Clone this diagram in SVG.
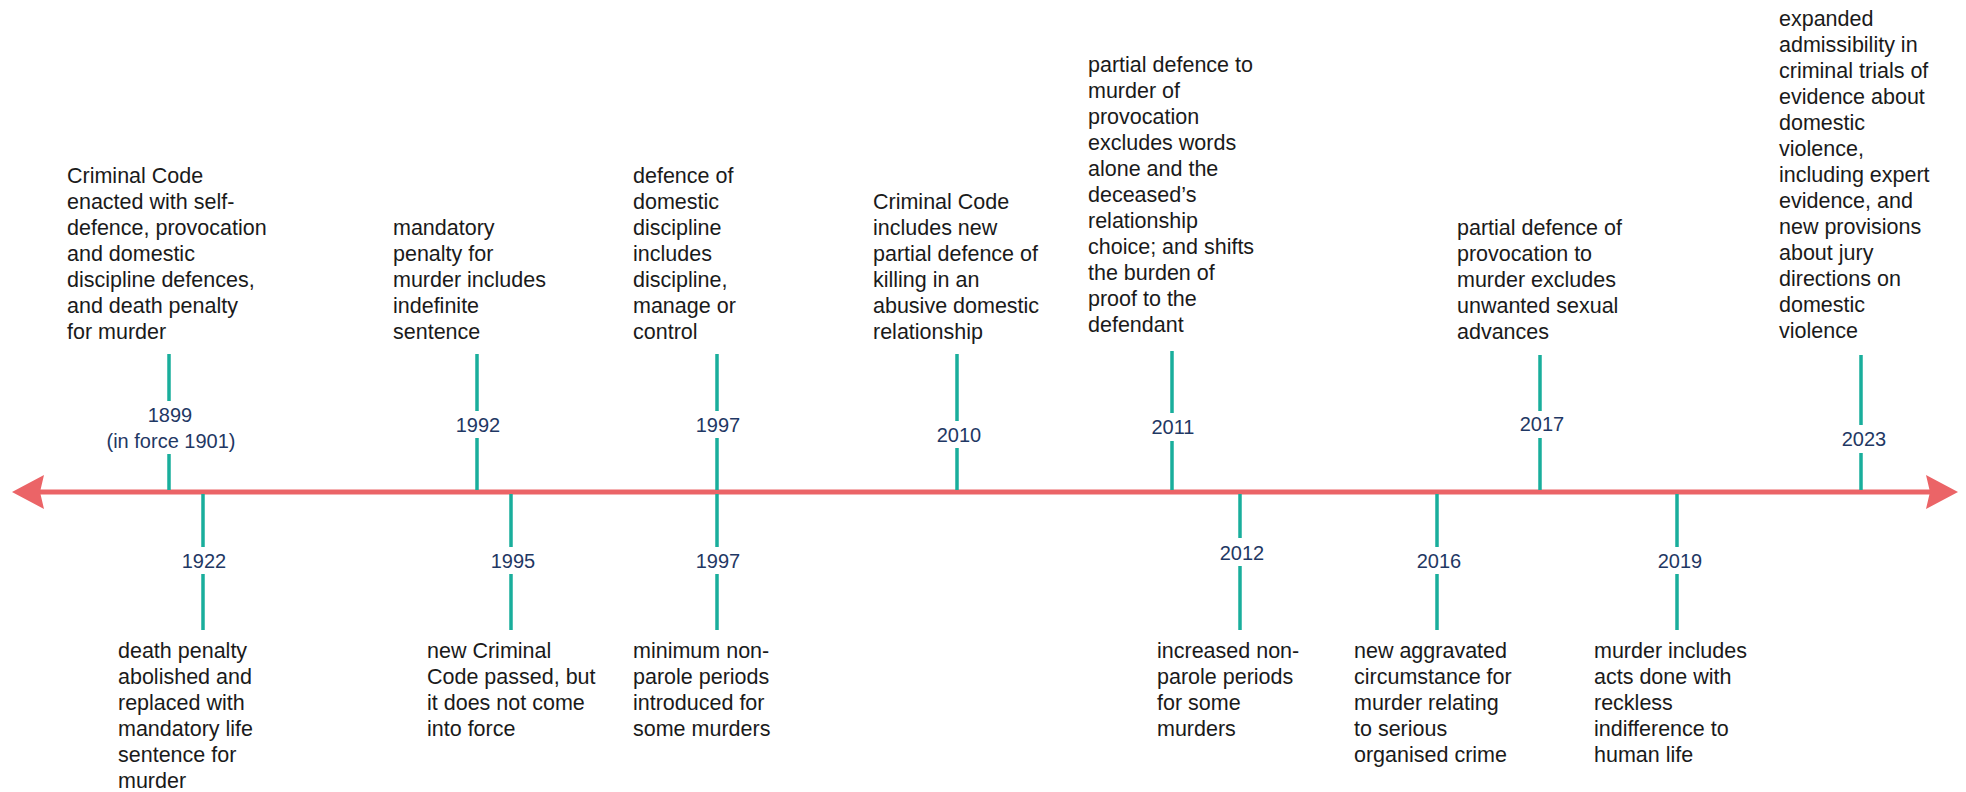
<svg xmlns="http://www.w3.org/2000/svg" width="1966" height="792" viewBox="0 0 1966 792">
<style>
.desc{font-family:"Liberation Sans",Arial,sans-serif;font-size:21.5px;fill:#1a1a1a}
.year{font-family:"Liberation Sans",Arial,sans-serif;font-size:20px;fill:#1F3864;text-anchor:middle}
.tick{stroke:#19AE9C;stroke-width:3.5;fill:none}
.axis{stroke:#EB6467;stroke-width:5;fill:none}
</style>
<defs>
<marker id="arrow" viewBox="0 0 32 34" refX="4" refY="17" markerWidth="32" markerHeight="34" markerUnits="userSpaceOnUse" orient="auto-start-reverse">
<path d="M0,0 L32,17 L0,34 L4,17 Z" fill="#EB6467"/>
</marker>
</defs>
<rect width="1966" height="792" fill="#ffffff"/>
<g id="connectors">
<line class="axis" x1="40" y1="492" x2="1930" y2="492" marker-start="url(#arrow)" marker-end="url(#arrow)"/>
<path class="tick" d="M169,354V401M169,454V490"/>
<path class="tick" d="M477,354V411M477,438V490"/>
<path class="tick" d="M717,354V411M717,438V490"/>
<path class="tick" d="M957,354V421M957,448V490"/>
<path class="tick" d="M1172,351V413M1172,441V490"/>
<path class="tick" d="M1540,355V411M1540,438V490"/>
<path class="tick" d="M1861,355V425M1861,453V490"/>
<path class="tick" d="M203,494V547M203,574V630"/>
<path class="tick" d="M511,494V547M511,574V630"/>
<path class="tick" d="M717,494V547M717,574V630"/>
<path class="tick" d="M1240,494V538M1240,566V630"/>
<path class="tick" d="M1437,494V547M1437,574V630"/>
<path class="tick" d="M1677,494V547M1677,574V630"/>
</g>
<g id="n1899">
<text class="desc" x="67"><tspan x="67" y="183">Criminal Code</tspan><tspan x="67" y="209">enacted with self-</tspan><tspan x="67" y="235">defence, provocation</tspan><tspan x="67" y="261">and domestic</tspan><tspan x="67" y="287">discipline defences,</tspan><tspan x="67" y="313">and death penalty</tspan><tspan x="67" y="339">for murder</tspan></text>
<text class="year" x="170" y="422">1899</text>
<text class="year" x="171" y="448">(in force 1901)</text>
</g>
<g id="n1922">
<text class="desc"><tspan x="118" y="658">death penalty</tspan><tspan x="118" y="684">abolished and</tspan><tspan x="118" y="710">replaced with</tspan><tspan x="118" y="736">mandatory life</tspan><tspan x="118" y="762">sentence for</tspan><tspan x="118" y="788">murder</tspan></text>
<text class="year" x="204" y="568">1922</text>
</g>
<g id="n1992">
<text class="desc"><tspan x="393" y="235">mandatory</tspan><tspan x="393" y="261">penalty for</tspan><tspan x="393" y="287">murder includes</tspan><tspan x="393" y="313">indefinite</tspan><tspan x="393" y="339">sentence</tspan></text>
<text class="year" x="478" y="432">1992</text>
</g>
<g id="n1995">
<text class="desc"><tspan x="427" y="658">new Criminal</tspan><tspan x="427" y="684">Code passed, but</tspan><tspan x="427" y="710">it does not come</tspan><tspan x="427" y="736">into force</tspan></text>
<text class="year" x="513" y="568">1995</text>
</g>
<g id="n1997a">
<text class="desc"><tspan x="633" y="183">defence of</tspan><tspan x="633" y="209">domestic</tspan><tspan x="633" y="235">discipline</tspan><tspan x="633" y="261">includes</tspan><tspan x="633" y="287">discipline,</tspan><tspan x="633" y="313">manage or</tspan><tspan x="633" y="339">control</tspan></text>
<text class="year" x="718" y="432">1997</text>
</g>
<g id="n1997b">
<text class="desc"><tspan x="633" y="658">minimum non-</tspan><tspan x="633" y="684">parole periods</tspan><tspan x="633" y="710">introduced for</tspan><tspan x="633" y="736">some murders</tspan></text>
<text class="year" x="718" y="568">1997</text>
</g>
<g id="n2010">
<text class="desc"><tspan x="873" y="209">Criminal Code</tspan><tspan x="873" y="235">includes new</tspan><tspan x="873" y="261">partial defence of</tspan><tspan x="873" y="287">killing in an</tspan><tspan x="873" y="313">abusive domestic</tspan><tspan x="873" y="339">relationship</tspan></text>
<text class="year" x="959" y="442">2010</text>
</g>
<g id="n2011">
<text class="desc"><tspan x="1088" y="72">partial defence to</tspan><tspan x="1088" y="98">murder of</tspan><tspan x="1088" y="124">provocation</tspan><tspan x="1088" y="150">excludes words</tspan><tspan x="1088" y="176">alone and the</tspan><tspan x="1088" y="202">deceased’s</tspan><tspan x="1088" y="228">relationship</tspan><tspan x="1088" y="254">choice; and shifts</tspan><tspan x="1088" y="280">the burden of</tspan><tspan x="1088" y="306">proof to the</tspan><tspan x="1088" y="332">defendant</tspan></text>
<text class="year" x="1173" y="434">2011</text>
</g>
<g id="n2012">
<text class="desc"><tspan x="1157" y="658">increased non-</tspan><tspan x="1157" y="684">parole periods</tspan><tspan x="1157" y="710">for some</tspan><tspan x="1157" y="736">murders</tspan></text>
<text class="year" x="1242" y="560">2012</text>
</g>
<g id="n2016">
<text class="desc"><tspan x="1354" y="658">new aggravated</tspan><tspan x="1354" y="684">circumstance for</tspan><tspan x="1354" y="710">murder relating</tspan><tspan x="1354" y="736">to serious</tspan><tspan x="1354" y="762">organised crime</tspan></text>
<text class="year" x="1439" y="568">2016</text>
</g>
<g id="n2017">
<text class="desc"><tspan x="1457" y="235">partial defence of</tspan><tspan x="1457" y="261">provocation to</tspan><tspan x="1457" y="287">murder excludes</tspan><tspan x="1457" y="313">unwanted sexual</tspan><tspan x="1457" y="339">advances</tspan></text>
<text class="year" x="1542" y="431">2017</text>
</g>
<g id="n2019">
<text class="desc"><tspan x="1594" y="658">murder includes</tspan><tspan x="1594" y="684">acts done with</tspan><tspan x="1594" y="710">reckless</tspan><tspan x="1594" y="736">indifference to</tspan><tspan x="1594" y="762">human life</tspan></text>
<text class="year" x="1680" y="568">2019</text>
</g>
<g id="n2023">
<text class="desc"><tspan x="1779" y="26">expanded</tspan><tspan x="1779" y="52">admissibility in</tspan><tspan x="1779" y="78">criminal trials of</tspan><tspan x="1779" y="104">evidence about</tspan><tspan x="1779" y="130">domestic</tspan><tspan x="1779" y="156">violence,</tspan><tspan x="1779" y="182">including expert</tspan><tspan x="1779" y="208">evidence, and</tspan><tspan x="1779" y="234">new provisions</tspan><tspan x="1779" y="260">about jury</tspan><tspan x="1779" y="286">directions on</tspan><tspan x="1779" y="312">domestic</tspan><tspan x="1779" y="338">violence</tspan></text>
<text class="year" x="1864" y="446">2023</text>
</g>
</svg>
